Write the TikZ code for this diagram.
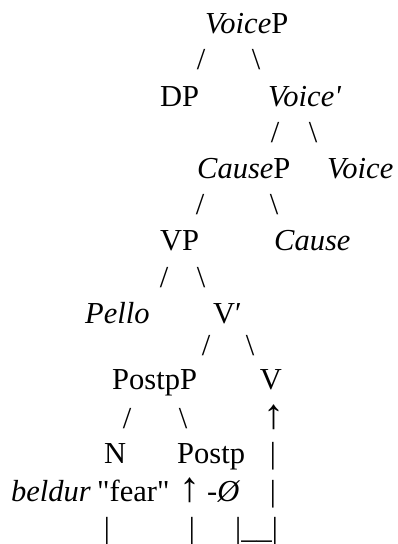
\documentclass[tikz,border=0pt]{standalone}
\usepackage{fontspec}
\setmainfont{Liberation Serif}[Ligatures=TeXOff]
\newcommand{\tf}{\fontsize{30.5}{36}\selectfont}
\tikzset{
  w/.style={anchor=base west, inner sep=0pt, font=\tf},
  c/.style={anchor=base, inner sep=0pt, font=\tf},
  arr/.style={anchor=base, inner sep=0pt, font=\fontsize{42}{46}\selectfont}
}
\begin{document}
\begin{tikzpicture}[x=1pt,y=-1pt]
\useasboundingbox[fill=white] (0,0) rectangle (398,544);
% row 1
\node[w] (voicep) at (205,33) {\textit{Voice}P};
\node[c] (s1) at (201,69) {/};
\node[c] (s2) at (256,69) {\textbackslash};
% row 3
\node[w] (dp) at (160,106) {DP};
\node[w] (voicebar) at (268,106) {\textit{Voice'}};
\node[c] (s3) at (275,142) {/};
\node[c] (s4) at (313,142) {\textbackslash};
% row 5
\node[w] (causep) at (197,178) {\textit{Cause}P};
\node[w] (voice) at (327,178) {\textit{Voice}};
\node[c] (s5) at (200,214) {/};
\node[c] (s6) at (274,214) {\textbackslash};
% row 7
\node[w] (vp) at (160,250) {VP};
\node[w] (cause) at (274,250) {\textit{Cause}};
\node[c] (s7) at (164,287) {/};
\node[c] (s8) at (201,287) {\textbackslash};
% row 9
\node[w] (pello) at (85,323) {\textit{Pello}};
\node[w] (vbar) at (213,323) {V′};
\node[c] (s9) at (206,355) {/};
\node[c] (s10) at (250,355) {\textbackslash};
% row 11
\node[w] (postpp) at (112,389) {PostpP};
\node[c] (v) at (271,389) {V};
\node[c] (s11) at (127,428) {/};
\node[c] (s12) at (183,428) {\textbackslash};
\node[arr] (up1) at (274,428) {↑};
% row 13
\node[w] (n) at (104,463) {N};
\node[w] (postp) at (177,463) {Postp};
\node[c] (b1) at (273,463) {|};
% row 14
\node[w] (beldur) at (11,501) {\textit{beldur}};
\node[w] (fear) at (97,501) {"fear"};
\node[arr] (up2) at (190,501) {↑};
\node[w] (zero) at (207,501) {\textit{-Ø}};
\node[c] (b2) at (273,501) {|};
% row 15
\node[c] (b3) at (107,538) {|};
\node[c] (b4) at (192,538) {|};
\node[w] (b5) at (235,538) {|\_\_|};
\end{tikzpicture}
\end{document}
